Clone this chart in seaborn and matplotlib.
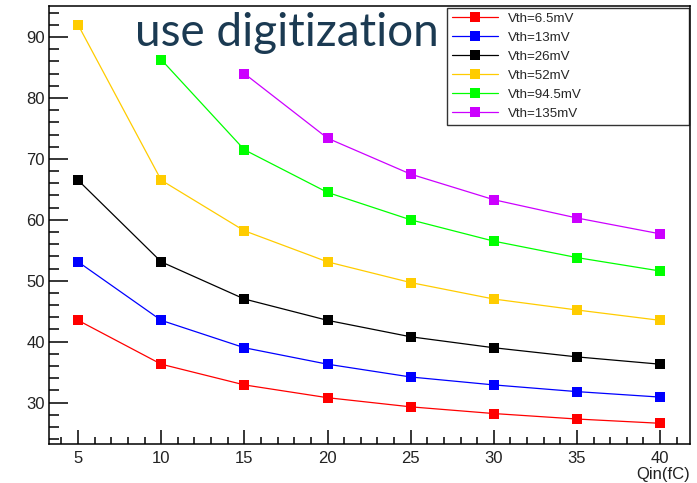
import numpy as np
import pandas as pd
import matplotlib
matplotlib.use("Agg")
import matplotlib.pyplot as plt
from matplotlib.lines import Line2D
from matplotlib.ticker import MultipleLocator
import seaborn as sns

# Input charge (fC)
qin = [5, 10, 15, 20, 25, 30, 35, 40]

# Series for each threshold setting (None = no point measured)
vth_labels = ["Vth=6.5mV", "Vth=13mV", "Vth=26mV", "Vth=52mV", "Vth=94.5mV", "Vth=135mV"]
vth_6p5 = [43.5, 36.3, 32.9, 30.8, 29.3, 28.2, 27.3, 26.6]
vth_13 = [53.1, 43.5, 39.0, 36.3, 34.2, 32.9, 31.8, 30.9]
vth_26 = [66.5, 53.1, 47.0, 43.5, 40.8, 39.0, 37.5, 36.3]
vth_52 = [92.0, 66.5, 58.2, 53.1, 49.7, 47.0, 45.2, 43.5]
vth_94p5 = [None, 86.3, 71.5, 64.5, 60.0, 56.5, 53.8, 51.6]
vth_135 = [None, None, 84.0, 73.4, 67.5, 63.3, 60.3, 57.7]
colors = ["#ff0000", "#0000ff", "#000000", "#ffcc00", "#00ff00", "#cc00ff"]

series = [vth_6p5, vth_13, vth_26, vth_52, vth_94p5, vth_135]
rows = []
for lab, vals in zip(vth_labels, series):
    for q, v in zip(qin, vals):
        if v is not None:
            rows.append({"Qin": q, "value": v, "Vth": lab})
df = pd.DataFrame(rows)

sns.set_style("white")
plt.rcParams["font.family"] = ["Liberation Sans", "DejaVu Sans"]

fig = plt.figure(figsize=(6.97, 4.83), dpi=100)
ax = fig.add_axes([49 / 697, 1 - 444 / 483, (690 - 49) / 697, (444 - 6) / 483])

palette = dict(zip(vth_labels, colors))
sns.lineplot(data=df, x="Qin", y="value", hue="Vth", hue_order=vth_labels,
             palette=palette, marker="s", markersize=6.7, markeredgewidth=0,
             linewidth=0.9, legend=False, ax=ax, estimator=None, sort=True)

ax.set_xlim(3.25, 41.8)
ax.set_ylim(23.2, 95.1)
ax.xaxis.set_major_locator(MultipleLocator(5))
ax.xaxis.set_minor_locator(MultipleLocator(1))
ax.yaxis.set_major_locator(MultipleLocator(10))
ax.yaxis.set_minor_locator(MultipleLocator(2))
ax.tick_params(axis="both", which="both", direction="in", width=1.1,
               colors="black", labelsize=12)
ax.tick_params(axis="x", which="both", bottom=True, top=False)
ax.tick_params(axis="y", which="both", left=True, right=False)
ax.tick_params(axis="x", which="major", length=10, pad=5)
ax.tick_params(axis="x", which="minor", length=5)
ax.tick_params(axis="y", which="major", length=13.7, pad=3)
ax.tick_params(axis="y", which="minor", length=7.2)
ax.tick_params(axis="x", labelcolor="#222222")
ax.tick_params(axis="y", labelcolor="#222222")
for s in ax.spines.values():
    s.set_color("black")
    s.set_linewidth(1.1)

ax.set_ylabel("")
ax.set_xlabel("Qin(fC)", loc="right", labelpad=1, fontsize=12, color="#222222")

handles = [Line2D([], [], color=c, marker="s", markersize=6.7, markeredgewidth=0,
                  linewidth=0.9) for c in colors]
leg = ax.legend(handles, vth_labels, loc="upper left",
                bbox_to_anchor=(447 / 697, 1 - 8 / 483, (689 - 447) / 697, 0.0),
                bbox_transform=fig.transFigure, mode="expand",
                fontsize=9.6, frameon=True, fancybox=False, borderpad=0.35,
                labelspacing=0.5, handlelength=3.5, handletextpad=0.75,
                borderaxespad=0)
leg.get_frame().set_edgecolor("black")
leg.get_frame().set_linewidth(1.0)

fig.text(135 / 697, 1 - 45.7 / 483, "use digitization", fontsize=33,
         family="Lato", color="#1b3a52", ha="left", va="baseline")

fig.savefig("out.png", dpi=100, facecolor="white")
